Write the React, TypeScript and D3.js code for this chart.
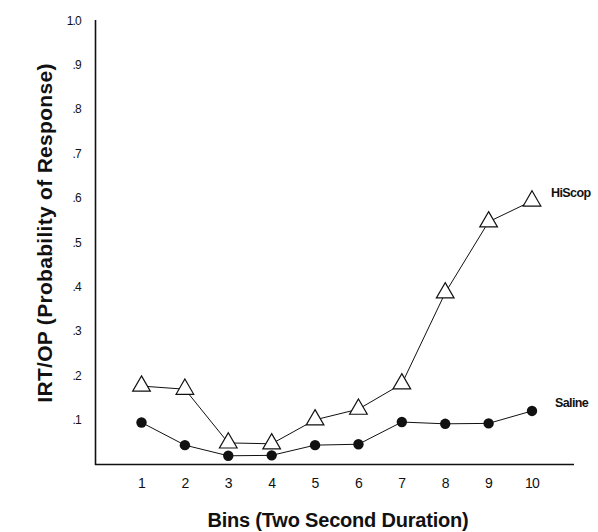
import React from "react";
import * as d3 from "d3";

const bins = [1, 2, 3, 4, 5, 6, 7, 8, 9, 10];
const hiScop = [0.18, 0.173, 0.052, 0.05, 0.104, 0.128, 0.185, 0.39, 0.55, 0.597];
const saline = [0.098, 0.047, 0.023, 0.024, 0.047, 0.049, 0.099, 0.095, 0.096, 0.124];
const yTicks = [0.1, 0.2, 0.3, 0.4, 0.5, 0.6, 0.7, 0.8, 0.9, 1.0];
const yTickLabels = [".1", ".2", ".3", ".4", ".5", ".6", ".7", ".8", ".9", "1.0"];

export default function App() {
  const W = 598, H = 532;
  const x = d3.scaleLinear().domain([1, 10]).range([141.5, 532]);
  const y = d3.scaleLinear().domain([0, 1]).range([466, 22]);
  const line = d3.line<number>().x((_, i) => x(bins[i])).y((d) => y(d));
  const tri = d3.symbol().type(d3.symbolTriangle).size(135)();
  const font = "'Liberation Sans', Arial, Helvetica, sans-serif";
  return (
    <svg width={W} height={H} style={{ position: "absolute", left: 0, top: 0, background: "#fff" }} fontFamily={font}>
      <rect width={W} height={H} fill="#fff" />
      {/* axes */}
      <line x1={95.5} x2={95.5} y1={20} y2={465} stroke="#111" strokeWidth={1.6} />
      <line x1={95} x2={574} y1={464.5} y2={464.5} stroke="#111" strokeWidth={1.6} />
      {yTicks.map((v, i) => (
        <text key={v} x={81} y={y(v) - 0.5} dominantBaseline="middle" textAnchor="end" fontSize={12} fill="#111" letterSpacing={-0.8}>
          {yTickLabels[i]}
        </text>
      ))}
      {bins.map((b) => (
        <text key={b} x={x(b)} y={484} dominantBaseline="middle" textAnchor="middle" fontSize={14} fill="#111" letterSpacing={-0.8}>
          {b}
        </text>
      ))}
      {/* lines */}
      <path d={line(hiScop) || ""} fill="none" stroke="#111" strokeWidth={1} />
      <path d={line(saline) || ""} fill="none" stroke="#111" strokeWidth={1} />
      {hiScop.map((v, i) => (
        <path key={"t" + i} d={tri || ""} transform={`translate(${x(bins[i])},${y(v)})`} fill="#fff" stroke="#111" strokeWidth={1.2} />
      ))}
      {saline.map((v, i) => (
        <circle key={"c" + i} cx={x(bins[i])} cy={y(v)} r={5.2} fill="#111" />
      ))}
      <text x={551} y={197} fontSize={12.5} fontWeight="bold" fill="#111" letterSpacing={-0.6}>HiScop</text>
      <text x={555} y={407} fontSize={12.5} fontWeight="bold" fill="#111" letterSpacing={-0.6}>Saline</text>
      {/* titles */}
      <text transform="translate(52,233) rotate(-90)" textAnchor="middle" fontSize={21} fontWeight="bold" fill="#111" letterSpacing={0.3}>
        IRT/OP (Probability of Response)
      </text>
      <text x={338} y={527} textAnchor="middle" fontSize={20} fontWeight="bold" fill="#111" letterSpacing={-0.2}>
        Bins (Two Second Duration)
      </text>
    </svg>
  );
}
